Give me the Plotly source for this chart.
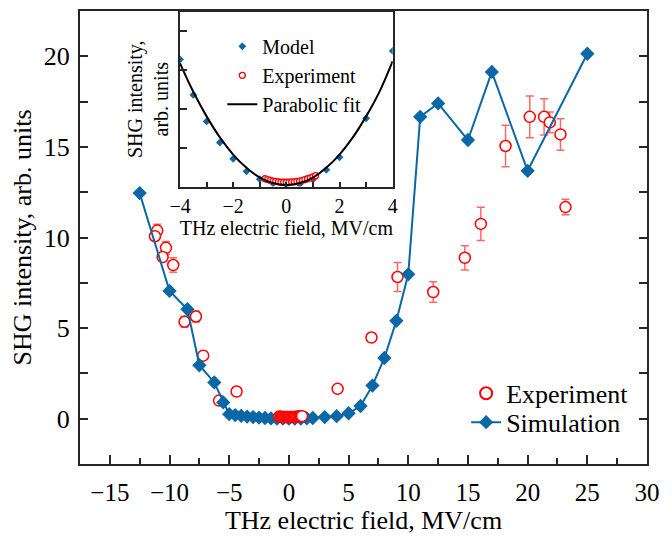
import plotly.graph_objects as go

# ---------------- main panel data ----------------
sim_x = [-12.5, -10, -8.5, -7.5, -6.25, -5.5, -5, -4.5, -4, -3.5, -3, -2.5, -2, -1.5, -1, -0.5,
         0, 0.5, 1, 1.5, 2, 3, 4, 5, 6, 7, 8, 9, 10, 11, 12.5, 15, 17, 20, 25]
sim_y = [12.45, 7.05, 6.04, 2.95, 2.0, 0.9, 0.25, 0.2, 0.16, 0.12, 0.09, 0.06, 0.04, 0.02, 0.01, 0.0,
         0.0, 0.0, 0.01, 0.02, 0.04, 0.09, 0.14, 0.3, 0.7, 1.83, 3.35, 5.4, 7.97, 16.66, 17.4, 15.38, 19.14, 13.68, 20.14]

exp_x = [-11.03, -11.22, -10.3, -10.58, -9.69, -8.74, -7.79, -7.18, -5.85, -4.38,
         4.08, 6.92, 9.1, 12.09, 14.74, 16.08, 18.15, 20.18, 21.38, 21.86, 22.75, 23.17]
exp_y = [10.38, 10.07, 9.43, 8.92, 8.48, 5.35, 5.64, 3.48, 1.0, 1.5,
         1.65, 4.48, 7.82, 6.99, 8.88, 10.75, 15.05, 16.66, 16.66, 16.35, 15.69, 11.68]
exp_err = [0.35, 0.1, 0.35, 0.1, 0.4, 0.3, 0.3, 0.1, 0.1, 0.1,
           0.15, 0.1, 0.8, 0.57, 0.67, 0.92, 1.15, 1.15, 1.0, 0.57, 0.87, 0.43]

exp0_x = [-0.8, -0.7, -0.6, -0.5, -0.4, -0.3, -0.2, -0.1, 0.0, 0.1,
          0.2, 0.3, 0.4, 0.5, 0.6, 0.7, 0.8, 0.9, 1.0, 1.1]
exp0_y = [0.12, 0.11, 0.1, 0.1, 0.09, 0.09, 0.09, 0.09, 0.09, 0.09,
          0.09, 0.1, 0.1, 0.1, 0.11, 0.11, 0.12, 0.12, 0.13, 0.14]

x_ticks = [-15, -10, -5, 0, 5, 10, 15, 20, 25, 30]
y_ticks = [0, 5, 10, 15, 20]

# ---------------- inset data ----------------
model_x = [-4, -3.5, -3, -2.5, -2, -1.5, -1, -0.5, 0, 0.5, 1, 1.5, 2, 3, 4]
model_y = [0.326, 0.235, 0.167, 0.113, 0.071, 0.039, 0.019, 0.008, 0.004, 0.006, 0.018, 0.043, 0.075, 0.175, 0.348]

exp_in_x = exp0_x
exp_in_y = [0.02, 0.018, 0.016, 0.014, 0.013, 0.012, 0.011, 0.011, 0.011, 0.011,
            0.012, 0.012, 0.013, 0.014, 0.016, 0.018, 0.02, 0.022, 0.025, 0.028]

fit_x = [-4, -3.5, -3, -2.5, -2, -1.5, -1, -0.5, 0, 0.5, 1, 1.5, 2, 2.5, 3, 3.5, 4]
fit_y = [0.316, 0.243, 0.18, 0.126, 0.082, 0.048, 0.023, 0.009, 0.004, 0.009, 0.023, 0.048, 0.082, 0.126, 0.18, 0.243, 0.322]

inset_x_ticks = [-4, -2, 0, 2, 4]

BLUE = "#0b67a6"
RED = "#ff0000"
FONT = "Liberation Serif"
AX = "#262626"

fig = go.Figure()

fig.add_trace(go.Scatter(
    x=exp_x, y=exp_y, mode="markers", name="Experiment",
    marker=dict(symbol="circle", size=11, color="white", line=dict(color=RED, width=1.5)),
    error_y=dict(type="data", array=exp_err, visible=True, color="rgba(255,40,40,0.7)", thickness=1.5, width=4),
    legend="legend", xaxis="x", yaxis="y"))

fig.add_trace(go.Scatter(
    x=sim_x, y=sim_y, mode="lines+markers", name="Simulation",
    line=dict(color=BLUE, width=2),
    marker=dict(symbol="diamond", size=11, color=BLUE),
    legend="legend3", xaxis="x", yaxis="y"))

fig.add_trace(go.Scatter(
    x=exp0_x, y=exp0_y, mode="markers", name="Experiment", showlegend=False,
    marker=dict(symbol="circle", size=11, color="white", line=dict(color=RED, width=1.5)),
    xaxis="x", yaxis="y"))

# inset
fig.add_trace(go.Scatter(
    x=model_x, y=model_y, mode="markers", name="Model",
    marker=dict(symbol="diamond", size=6, color=BLUE),
    legend="legend2", xaxis="x2", yaxis="y2"))
fig.add_trace(go.Scatter(
    x=exp_in_x, y=exp_in_y, mode="markers", name="Experiment",
    marker=dict(symbol="circle", size=6, color="white", line=dict(color=RED, width=1.3)),
    legend="legend2", xaxis="x2", yaxis="y2"))
fig.add_trace(go.Scatter(
    x=fit_x, y=fit_y, mode="lines", name="Parabolic fit",
    line=dict(color="black", width=2, shape="spline"),
    legend="legend2", xaxis="x2", yaxis="y2"))

fig.update_layout(
    width=672, height=539,
    margin=dict(l=72, r=33, t=1, b=83),
    paper_bgcolor="white", plot_bgcolor="white",
    font=dict(family=FONT, size=26, color="black"),
    xaxis=dict(
        range=[-17.5, 30], domain=[0, 1], tickvals=x_ticks,
        ticks="inside", ticklen=9, tickwidth=1.5, tickcolor=AX,
        minor=dict(dtick=2.5, tick0=0, ticks="inside", ticklen=6, tickwidth=1.5, tickcolor=AX),
        showline=True, linecolor=AX, linewidth=2, mirror=True,
        showgrid=False, zeroline=False, ticklabelstandoff=5, tickfont=dict(size=25),
        title=dict(text="THz electric field, MV/cm", font=dict(size=26), standoff=4)),
    yaxis=dict(
        range=[-2.5, 22.5], domain=[0, 1], tickvals=y_ticks,
        ticks="inside", ticklen=8, tickwidth=1.5, tickcolor=AX,
        minor=dict(dtick=2.5, tick0=0, ticks="inside", ticklen=8, tickwidth=1.5, tickcolor=AX),
        showline=True, linecolor=AX, linewidth=2, mirror="ticks",
        showgrid=False, zeroline=False, ticklabelstandoff=3, tickfont=dict(size=26),
        title=dict(text="SHG intensity, arb. units", font=dict(size=26), standoff=9)),
    xaxis2=dict(
        domain=[0.1764, 0.5515], anchor="y2", range=[-4, 4], tickvals=inset_x_ticks,
        ticks="inside", ticklen=5, tickwidth=1.5, tickcolor=AX,
        minor=dict(dtick=1, tick0=0, ticks="inside", ticklen=5, tickwidth=1.5, tickcolor=AX),
        showline=True, linecolor=AX, linewidth=2, mirror=True,
        showgrid=False, zeroline=False, tickfont=dict(size=20), ticklabelstandoff=0,
        title=dict(text="THz electric field, MV/cm", font=dict(size=20), standoff=0)),
    yaxis2=dict(
        domain=[0.6125, 0.998], anchor="x2", range=[0, 0.448], dtick=0.1,
        ticks="inside", ticklen=7, tickwidth=1.5, tickcolor=AX, showticklabels=False,
        showline=True, linecolor=AX, linewidth=2, mirror=True,
        showgrid=False, zeroline=False,
        title=dict(text="SHG intensity,<br>arb. units", font=dict(size=20), standoff=4)),
    legend=dict(x=0.681, y=0.2077, xanchor="left", yanchor="top", bgcolor="rgba(0,0,0,0)",
                font=dict(size=26), tracegroupgap=0, itemsizing="constant"),
    legend3=dict(x=0.681, y=0.144, xanchor="left", yanchor="top", bgcolor="rgba(0,0,0,0)",
                 font=dict(size=26), tracegroupgap=0),
    legend2=dict(x=0.251, y=0.965, xanchor="left", yanchor="top", bgcolor="rgba(0,0,0,0)",
                 font=dict(size=20), tracegroupgap=0),
)

fig.write_html("out.html")
